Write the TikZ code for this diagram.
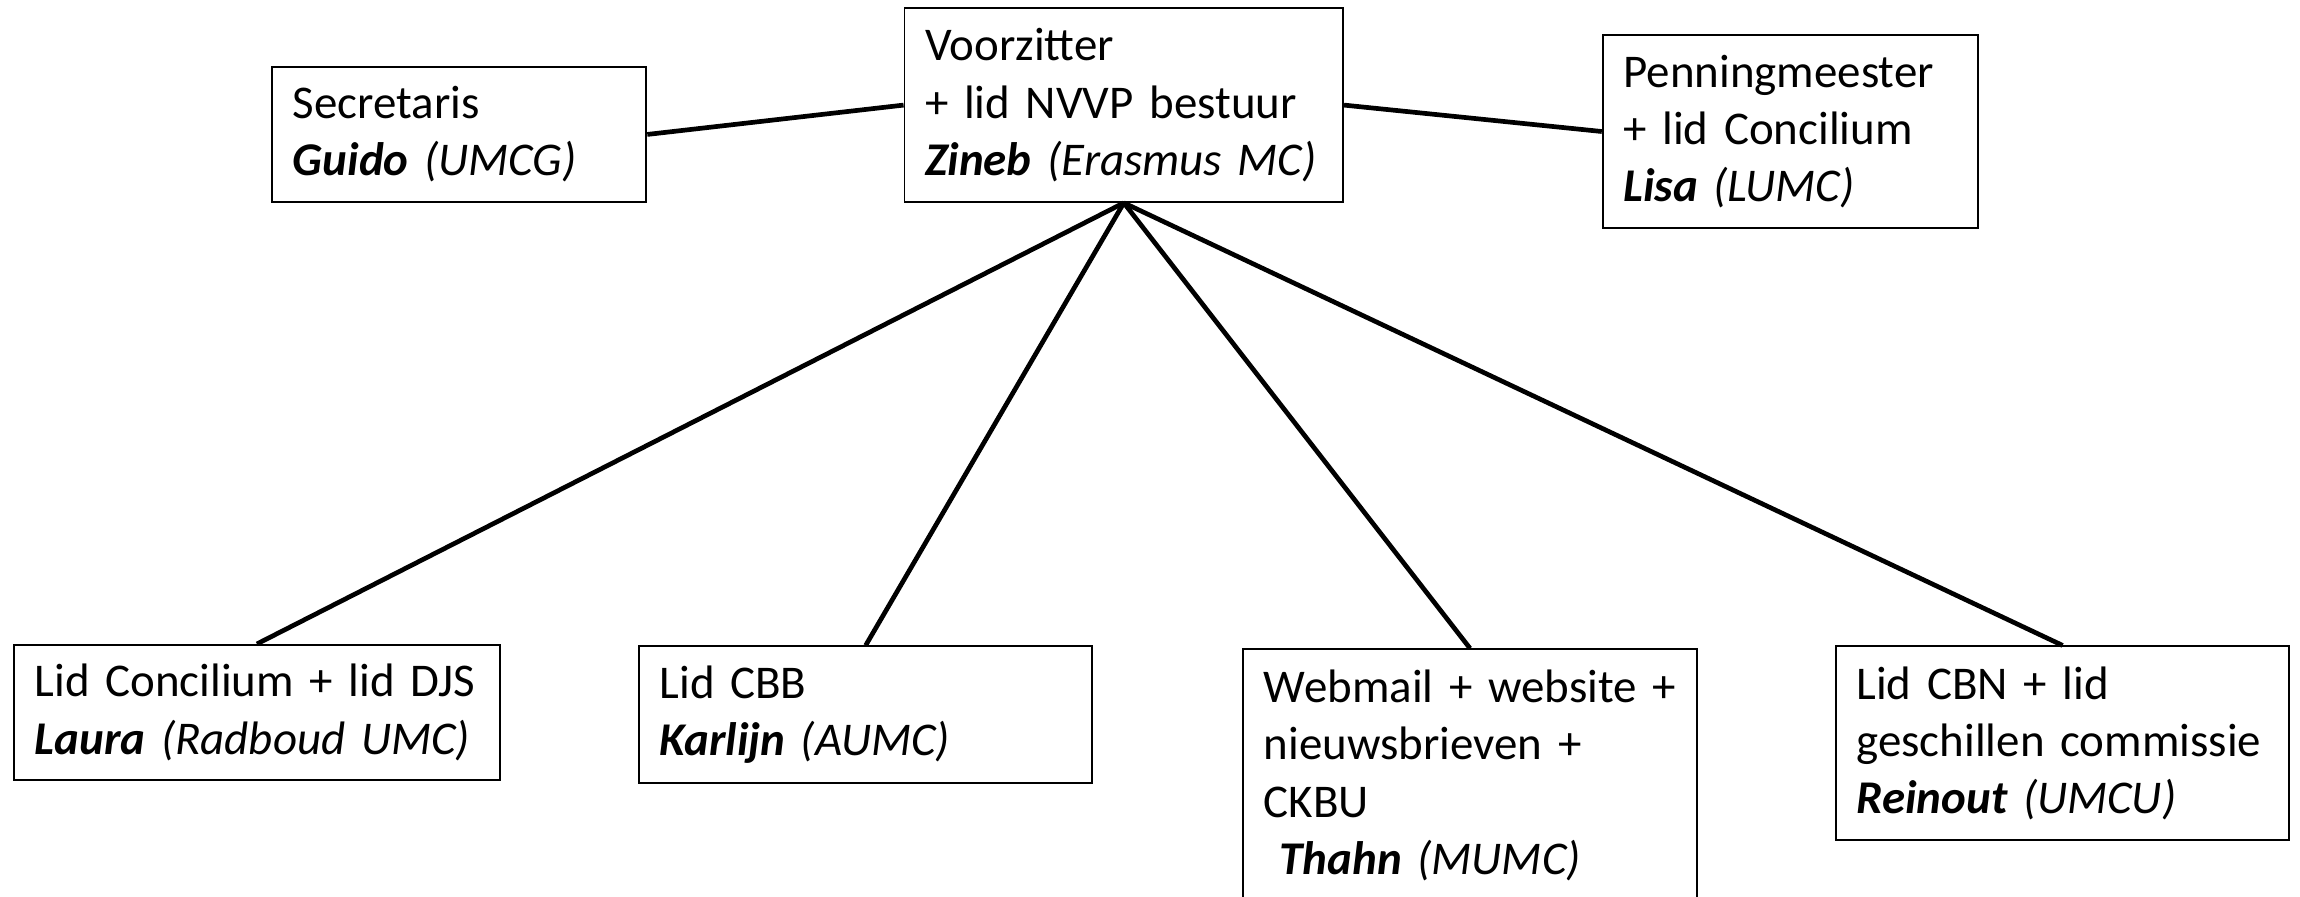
\documentclass[tikz,border=0pt]{standalone}
\usepackage{fontspec}
\setmainfont[WordSpace=0.85]{Carlito}
\tikzset{
  functie/.style={draw, line width=1.3pt, anchor=north west, align=left,
    inner xsep=14pt, inner ysep=0pt, font=\fontsize{32}{39}\selectfont},
  verbinding/.style={line width=3.2pt}
}
\newcommand{\naam}[2]{{\bfseries\itshape #1} {\itshape (#2)}}
\begin{document}
\begin{tikzpicture}[x=1pt, y=-1pt]
  \useasboundingbox (0,0) rectangle (1568,611);
  % bestuur
  \node[functie, text width=227pt, minimum height=92pt] (secretaris) at (185,45)
    {Secretaris\\\naam{Guido}{UMCG}};
  \node[functie, text width=271pt, minimum height=132pt] (voorzitter) at (616,5)
    {Voorzitter\\+ lid NVVP bestuur\\\naam{Zineb}{Erasmus MC}};
  \node[functie, text width=228pt, minimum height=132pt] (penning) at (1092,23)
    {Penningmeester\\+ lid Concilium\\\naam{Lisa}{LUMC}};
  % leden
  \node[functie, text width=303pt, minimum height=92pt] (laura) at (9,439)
    {Lid Concilium + lid DJS\\\naam{Laura}{Radboud UMC}};
  \node[functie, text width=281pt, minimum height=93pt] (karlijn) at (435,440)
    {Lid CBB\\\naam{Karlijn}{AUMC}};
  \node[functie, text width=281pt, minimum height=172pt] (thahn) at (847,442)
    {Webmail + website +\\nieuwsbrieven +\\CKBU\\\ \naam{Thahn}{MUMC}};
  \node[functie, text width=281pt, minimum height=132pt] (reinout) at (1251,440)
    {Lid CBN + lid\\geschillen commissie\\\naam{Reinout}{UMCU}};
  % lijnen
  \draw[verbinding] (secretaris.east) -- (voorzitter.west);
  \draw[verbinding] (voorzitter.east) -- (penning.west);
  \foreach \lid in {laura, karlijn, thahn, reinout}
    \draw[verbinding] (voorzitter.south) -- (\lid.north);
\end{tikzpicture}
\end{document}
